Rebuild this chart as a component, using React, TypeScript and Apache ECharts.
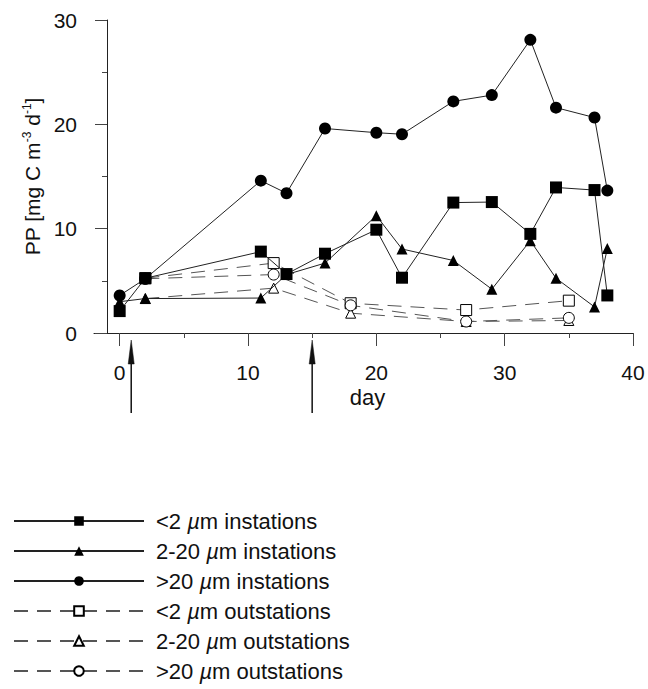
import React, { useEffect, useRef } from "react";
import * as echarts from "echarts";

// ---- data ----
const inDays = [0, 2, 11, 13, 16, 20, 22, 26, 29, 32, 34, 37, 38];
const inSmall = [2.1, 5.25, 7.8, 5.65, 7.6, 9.9, 5.3, 12.5, 12.55, 9.5, 13.95, 13.7, 3.6];
const inMid = [3.0, 3.3, 3.35, 5.6, 6.7, 11.25, 8.05, 6.95, 4.2, 8.85, 5.25, 2.5, 8.1];
const inLarge = [3.6, 5.2, 14.6, 13.4, 19.6, 19.2, 19.05, 22.2, 22.8, 28.1, 21.6, 20.65, 13.65];

const outDays = [2, 12, 18, 27, 35];
const outSmall = [5.25, 6.7, 2.85, 2.2, 3.1];
const outMid = [3.3, 4.3, 1.9, 1.1, 1.2];
const outLarge = [5.2, 5.6, 2.65, 1.1, 1.45];

const xMajorTicks = [0, 10, 20, 30, 40];
const xMinorTicks = [5, 15, 25, 35];
const arrowDays = [0.9, 15];

const seriesNames = [
  "<2 µm instations",
  "2-20 µm instations",
  ">20 µm instations",
  "<2 µm outstations",
  "2-20 µm outstations",
  ">20 µm outstations",
];

const FONT = "'Liberation Sans', Arial, Helvetica, sans-serif";

function pairs(xs: number[], ys: number[]) {
  return xs.map((x, i) => [x, ys[i]]);
}

export default function App() {
  const ref = useRef<HTMLDivElement>(null);

  useEffect(() => {
    if (!ref.current) return;
    const chart = echarts.init(ref.current, undefined, { renderer: "svg" });

    const solidLine = { color: "#222", width: 1, type: "solid" as const };
    const dashLine = { color: "#555", width: 1, type: [14, 9] as any };

    const mk = (
      name: string,
      data: number[][],
      symbol: string,
      size: number,
      filled: boolean,
      dashed: boolean,
      z: number
    ) => ({
      type: "line",
      name,
      data,
      xAxisIndex: 0,
      yAxisIndex: 0,
      symbol,
      symbolSize: size,
      showSymbol: true,
      z,
      lineStyle: dashed ? dashLine : solidLine,
      itemStyle: filled
        ? { color: "#000", borderColor: "#000", borderWidth: 0 }
        : { color: "#fff", borderColor: "#000", borderWidth: 1 },
      emphasis: { disabled: true },
    });

    const option: any = {
      animation: false,
      textStyle: { fontFamily: FONT },
      grid: { left: 94, right: 15, top: 20, bottom: 356, containLabel: false },
      xAxis: [
        {
          type: "value",
          min: -2,
          max: 40,
          position: "bottom",
          name: "day",
          nameLocation: "middle",
          nameGap: 53,
          nameTextStyle: { fontSize: 22, color: "#111", fontFamily: FONT, padding: [0, 0, 0, 8] },
          axisLine: { show: true, onZero: false, lineStyle: { color: "#222", width: 1 } },
          axisTick: { show: true, length: 13, customValues: xMajorTicks, lineStyle: { color: "#444" } },
          axisLabel: {
            show: true,
            customValues: xMajorTicks,
            margin: 29,
            fontSize: 21,
            color: "#111",
            fontFamily: FONT,
          },
          splitLine: { show: false },
        },
        {
          type: "value",
          min: -2,
          max: 40,
          position: "bottom",
          axisLine: { show: false, onZero: false },
          axisTick: { show: true, length: 5, customValues: xMinorTicks, lineStyle: { color: "#444" } },
          axisLabel: { show: false },
          splitLine: { show: false },
        },
      ],
      yAxis: {
        type: "value",
        min: 0,
        max: 30,
        interval: 10,
        offset: -13,
        name: "{a|PP [mg C m}{s|-3}{a| d}{s|-1}{a|]}",
        nameLocation: "middle",
        nameRotate: 90,
        nameGap: 55,
        nameTextStyle: {
          rich: {
            a: { fontSize: 21, color: "#111", fontFamily: FONT, lineHeight: 22 },
            s: { fontSize: 12, color: "#111", fontFamily: FONT, verticalAlign: "top", lineHeight: 22 },
          },
        },
        axisLine: { show: true, onZero: false, lineStyle: { color: "#222", width: 1 } },
        axisTick: { show: true, length: 12, lineStyle: { color: "#444" } },
        minorTick: { show: true, splitNumber: 2, length: 5, lineStyle: { color: "#444" } },
        axisLabel: { margin: 30, fontSize: 21, color: "#111", fontFamily: FONT },
        splitLine: { show: false },
      },
      legend: {
        orient: "vertical",
        left: 13,
        top: 510,
        padding: 0,
        itemWidth: 130,
        itemHeight: 12,
        itemGap: 8,
        data: seriesNames,
        formatter: (n: string) => n.replace("µ", "{i|µ}"),
        textStyle: {
          fontSize: 22,
          lineHeight: 22,
          color: "#111",
          fontFamily: FONT,
          padding: [0, 0, 0, 7],
          rich: { i: { fontSize: 22, fontStyle: "italic", color: "#111", fontFamily: FONT } },
        },
        selectedMode: false,
      },
      series: [
        mk(seriesNames[3], pairs(outDays, outSmall), "rect", 11, false, true, 2),
        mk(seriesNames[4], pairs(outDays, outMid), "triangle", 10, false, true, 2),
        mk(seriesNames[5], pairs(outDays, outLarge), "circle", 11, false, true, 2),
        mk(seriesNames[0], pairs(inDays, inSmall), "rect", 12, true, false, 3),
        mk(seriesNames[1], pairs(inDays, inMid), "triangle", 11, true, false, 3),
        mk(seriesNames[2], pairs(inDays, inLarge), "circle", 12, true, false, 3),
      ],
    };

    chart.setOption(option);

    // arrows below the x axis, positioned through the axis scale
    const y0 = chart.convertToPixel({ yAxisIndex: 0 }, 0) as number;
    const elements: any[] = [];
    arrowDays.forEach((d) => {
      const x = chart.convertToPixel({ xAxisIndex: 0 }, d) as number;
      elements.push({
        type: "line",
        shape: { x1: x, y1: y0 + 80, x2: x, y2: y0 + 20 },
        style: { stroke: "#111", lineWidth: 1.5 },
        silent: true,
      });
      elements.push({
        type: "polygon",
        shape: { points: [[x, y0 + 7], [x - 3, y0 + 31], [x + 3, y0 + 31]] },
        style: { fill: "#111", stroke: "#111", lineWidth: 0.5 },
        silent: true,
      });
    });
    chart.setOption({ graphic: elements });

    return () => chart.dispose();
  }, []);

  return (
    <div
      ref={ref}
      style={{ position: "absolute", left: 0, top: 0, width: 648, height: 689, overflow: "hidden" }}
    />
  );
}
